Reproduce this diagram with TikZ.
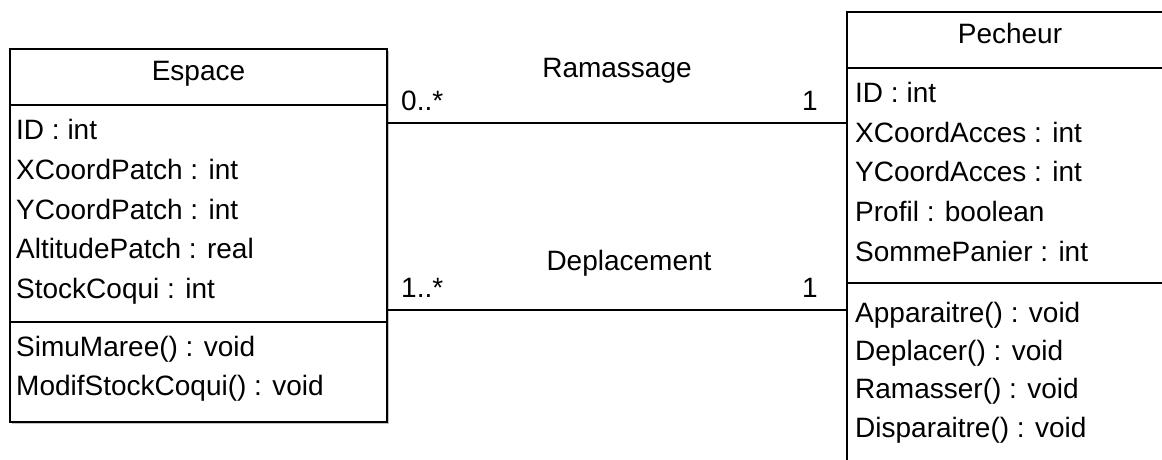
\documentclass[tikz,border=0pt]{standalone}
\usepackage{fontspec}
\setmainfont{Liberation Sans}
\usetikzlibrary{calc,positioning,shadows}
\definecolor{ink}{HTML}{000000}
\definecolor{shade}{HTML}{9A9A9A}
\tikzset{
  font=\fontsize{28pt}{34pt}\selectfont,
  compart/.style={draw=ink, fill=white, line width=1.5pt,
    inner sep=0pt, outer sep=0pt,
    drop shadow={shadow xshift=2pt, shadow yshift=-2pt,
      fill=shade, opacity=.6}},
  classhead/.style={compart, text height=20pt, text depth=13pt},
  member/.style={inner sep=0pt, anchor=base west, text=ink},
  assoc/.style={draw=ink, line width=1.5pt},
  assocname/.style={inner sep=0pt, anchor=base, text=ink},
  mult/.style={inner sep=0pt, text=ink}
}

\begin{document}
\begin{tikzpicture}[x=1pt,y=-1pt]
  \useasboundingbox (0,0) rectangle (1162,459);
  \clip (0,0) rectangle (1162,459);

  % -------------------------------------------------------------------
  % Class Espace
  \node[classhead, minimum width=377pt, minimum height=56pt,
    anchor=north west] (espHead) at (10,49) {Espace};
  \node[compart, minimum width=377pt, minimum height=217pt,
    below=0pt of espHead] (espAttr) {};
  \node[compart, minimum width=377pt, minimum height=100pt,
    below=0pt of espAttr] (espOps) {};

  \node[member] (espID) at (16,139) {ID : int};
  \node[member] (espX) at (16,179) {XCoordPatch : int};
  \node[member] (espY) at (16,219) {YCoordPatch : int};
  \node[member] (espAlt) at (16,258) {AltitudePatch : real};
  \node[member] (espStock) at (16,298) {StockCoqui : int};
  \node[member] (espSimu) at (16,356) {SimuMaree() : void};
  \node[member] (espModif) at (16,395) {ModifStockCoqui() : void};

  % -------------------------------------------------------------------
  % Class Pecheur
  \node[classhead, minimum width=326pt, minimum height=56pt,
    anchor=north west] (pecHead) at (847,12) {Pecheur};
  \node[compart, minimum width=326pt, minimum height=215pt,
    below=0pt of pecHead] (pecAttr) {};
  \node[compart, minimum width=326pt, minimum height=200pt,
    below=0pt of pecAttr] (pecOps) {};

  \node[member] (pecID) at (855,102) {ID : int};
  \node[member] (pecX) at (855,142) {XCoordAcces : int};
  \node[member] (pecY) at (855,181) {YCoordAcces : int};
  \node[member] (pecProfil) at (855,221) {Profil : boolean};
  \node[member] (pecSomme) at (855,261) {SommePanier : int};
  \node[member] (pecApp) at (855,322) {Apparaitre() : void};
  \node[member] (pecDep) at (855,360) {Deplacer() : void};
  \node[member] (pecRam) at (855,398) {Ramasser() : void};
  \node[member] (pecDisp) at (855,437) {Disparaitre() : void};

  % -------------------------------------------------------------------
  % Associations
  \coordinate (ramL) at ($(espAttr.north east)+(0,18)$);
  \coordinate (depL) at ($(espAttr.south east)+(0,-12)$);
  \draw[assoc] (ramL) -- (ramL -| pecAttr.west);
  \draw[assoc] (depL) -- (depL -| pecAttr.west);

  \node[assocname] (ramName) at (617,77) {Ramassage};
  \node[mult, anchor=base west] (ramMultE) at (401,110) {0..*};
  \node[mult, anchor=base east] (ramMultP) at (818,110) {1};

  \node[assocname] (depName) at (629,270) {Deplacement};
  \node[mult, anchor=base west] (depMultE) at (401,297) {1..*};
  \node[mult, anchor=base east] (depMultP) at (818,297) {1};
\end{tikzpicture}
\end{document}
